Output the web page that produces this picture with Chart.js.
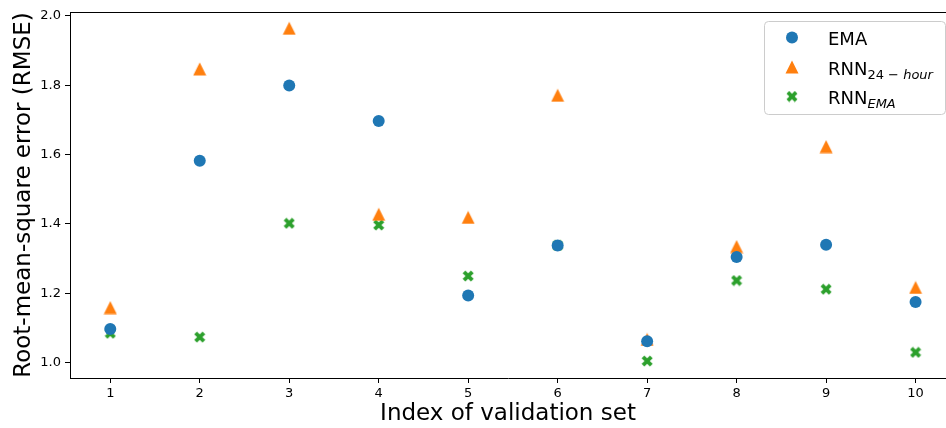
<!DOCTYPE html>
<html>
<head>
<meta charset="utf-8">
<script src="https://cdn.jsdelivr.net/npm/chart.js@4/dist/chart.umd.min.js"></script>
<style>
  html, body { margin: 0; padding: 0; background: #fff; overflow: hidden; }
  #chart { display: block; }
</style>
</head>
<body>
<canvas id="chart" width="946" height="428"></canvas>
<script>
// validation set index and RMSE per model
const setIndex = [1, 2, 3, 4, 5, 6, 7, 8, 9, 10];
const emaRmse = [1.097, 1.582, 1.799, 1.697, 1.194, 1.338, 1.062, 1.305, 1.340, 1.175];
const rnn24Rmse = [1.159, 1.847, 1.964, 1.428, 1.419, 1.771, 1.067, 1.335, 1.623, 1.217];
const rnnEmaRmse = [1.085, 1.074, 1.402, 1.397, 1.250, 1.338, 1.005, 1.237, 1.212, 1.030];

const xTicks = [1, 2, 3, 4, 5, 6, 7, 8, 9, 10];
const yTicks = [1.0, 1.2, 1.4, 1.6, 1.8, 2.0];

// legend names: main text + subscript parts [text, italic?]
const legendNames = [
    { main: 'EMA', sub: [] },
    { main: 'RNN', sub: [['24 \u2212 ', false], ['hour', true]] },
    { main: 'RNN', sub: [['EMA', true]] }
];

const BLUE = '#1f77b4', ORANGE = '#ff7f0e', GREEN = '#2ca02c';
const FONT = '"DejaVu Sans", sans-serif';

// matplotlib-like filled triangle marker
function triangleMarker(size, color) {
    const c = document.createElement('canvas');
    c.width = size + 1; c.height = size + 1;
    const g = c.getContext('2d');
    g.fillStyle = color;
    g.beginPath();
    g.moveTo(0.5, size + 0.5);
    g.lineTo(size + 0.5, size + 0.5);
    g.lineTo((size + 1) / 2, 0.5);
    g.closePath();
    g.fill();
    return c;
}

// matplotlib 'X' (filled x) marker
function xMarker(size, color) {
    const c = document.createElement('canvas');
    c.width = size + 1; c.height = size + 1;
    const g = c.getContext('2d');
    const half = size / 2;
    const w = half * 0.345, L = half * 1.414 - w;
    const pts = [[-w, L], [w, L], [w, w], [L, w], [L, -w], [w, -w], [w, -L], [-w, -L], [-w, -w], [-L, -w], [-L, w], [-w, w]];
    const a = Math.PI / 4;
    g.fillStyle = color;
    g.beginPath();
    pts.forEach((p, i) => {
        const x = p[0] * Math.cos(a) - p[1] * Math.sin(a) + (size + 1) / 2;
        const y = p[0] * Math.sin(a) + p[1] * Math.cos(a) + (size + 1) / 2;
        if (i === 0) g.moveTo(x, y); else g.lineTo(x, y);
    });
    g.closePath();
    g.fill();
    return c;
}

const triImg = triangleMarker(13, ORANGE);
const xImg = xMarker(11, GREEN);

function toPoints(values) {
    return setIndex.map((x, i) => ({ x: x, y: values[i] }));
}

// top spine + custom legend with subscripts
const extrasPlugin = {
    id: 'extras',
    afterDraw(chart) {
        const ctx = chart.ctx;
        const area = chart.chartArea;
        ctx.save();
        ctx.strokeStyle = '#000';
        ctx.lineWidth = 1;
        ctx.beginPath();
        ctx.moveTo(area.left, Math.round(area.top) + 0.5);
        ctx.lineTo(chart.width, Math.round(area.top) + 0.5);
        ctx.stroke();

        // legend box
        ctx.fillStyle = 'rgba(255,255,255,0.8)';
        ctx.strokeStyle = '#cccccc';
        ctx.beginPath();
        ctx.roundRect(764.5, 21.5, 181, 93, 4);
        ctx.fill();
        ctx.stroke();

        const baselines = [45, 74.5, 104];
        const markerX = 792;
        const textX = 828;
        baselines.forEach((by, i) => {
            const my = by - 7.5;
            if (i === 0) {
                ctx.fillStyle = BLUE;
                ctx.beginPath();
                ctx.arc(markerX, my, 6, 0, Math.PI * 2);
                ctx.fill();
            } else if (i === 1) {
                ctx.drawImage(triImg, markerX - triImg.width / 2, my - triImg.height / 2);
            } else {
                ctx.drawImage(xImg, markerX - xImg.width / 2, my - xImg.height / 2);
            }
            ctx.fillStyle = '#000';
            ctx.textBaseline = 'alphabetic';
            ctx.textAlign = 'left';
            ctx.font = '18px ' + FONT;
            ctx.fillText(legendNames[i].main, textX, by);
            let x = textX + ctx.measureText(legendNames[i].main).width;
            legendNames[i].sub.forEach(part => {
                ctx.font = (part[1] ? 'italic ' : '') + '13px ' + FONT;
                ctx.fillText(part[0], x, by + 4);
                x += ctx.measureText(part[0]).width;
            });
        });
        ctx.restore();
    }
};

new Chart(document.getElementById('chart'), {
    type: 'scatter',
    data: {
        datasets: [
            {
                label: 'EMA',
                data: toPoints(emaRmse),
                pointStyle: 'circle',
                pointRadius: 6,
                pointBorderWidth: 0,
                backgroundColor: BLUE,
                borderColor: BLUE
            },
            {
                label: 'RNN 24-hour',
                data: toPoints(rnn24Rmse),
                pointStyle: triImg,
                backgroundColor: ORANGE,
                borderColor: ORANGE
            },
            {
                label: 'RNN EMA',
                data: toPoints(rnnEmaRmse),
                pointStyle: xImg,
                backgroundColor: GREEN,
                borderColor: GREEN
            }
        ]
    },
    options: {
        responsive: false,
        animation: false,
        layout: { autoPadding: false, padding: { top: 12, right: 0, left: 0, bottom: 0 } },
        plugins: {
            legend: { display: false },
            tooltip: { enabled: false }
        },
        scales: {
            x: {
                type: 'linear',
                min: 0.55,
                max: 10.34,
                afterFit: s => { s.height = 50; s.paddingLeft = 0; s.paddingRight = 0; },
                afterBuildTicks: s => { s.ticks = xTicks.map(v => ({ value: v })); },
                grid: { drawOnChartArea: false, drawTicks: true, tickLength: 5, tickColor: '#000' },
                border: { display: true, color: '#000', width: 1 },
                ticks: { color: '#000', font: { family: FONT, size: 13 }, padding: 3, maxRotation: 0 },
                title: {
                    display: true,
                    text: 'Index of validation set',
                    color: '#000',
                    font: { family: FONT, size: 23 },
                    padding: { top: 0, bottom: 0 }
                }
            },
            y: {
                type: 'linear',
                min: 0.956,
                max: 2.011,
                afterFit: s => { s.width = 70; },
                afterBuildTicks: s => { s.ticks = yTicks.map(v => ({ value: v })); },
                grid: { drawOnChartArea: false, drawTicks: true, tickLength: 5, tickColor: '#000' },
                border: { display: true, color: '#000', width: 1 },
                ticks: {
                    color: '#000',
                    font: { family: FONT, size: 13 },
                    padding: 4,
                    callback: v => Number(v).toFixed(1)
                },
                title: {
                    display: true,
                    text: 'Root-mean-square error (RMSE)',
                    color: '#000',
                    font: { family: FONT, size: 23 },
                    padding: { top: 10, bottom: 4 }
                }
            }
        }
    },
    plugins: [extrasPlugin]
});
</script>
</body>
</html>
